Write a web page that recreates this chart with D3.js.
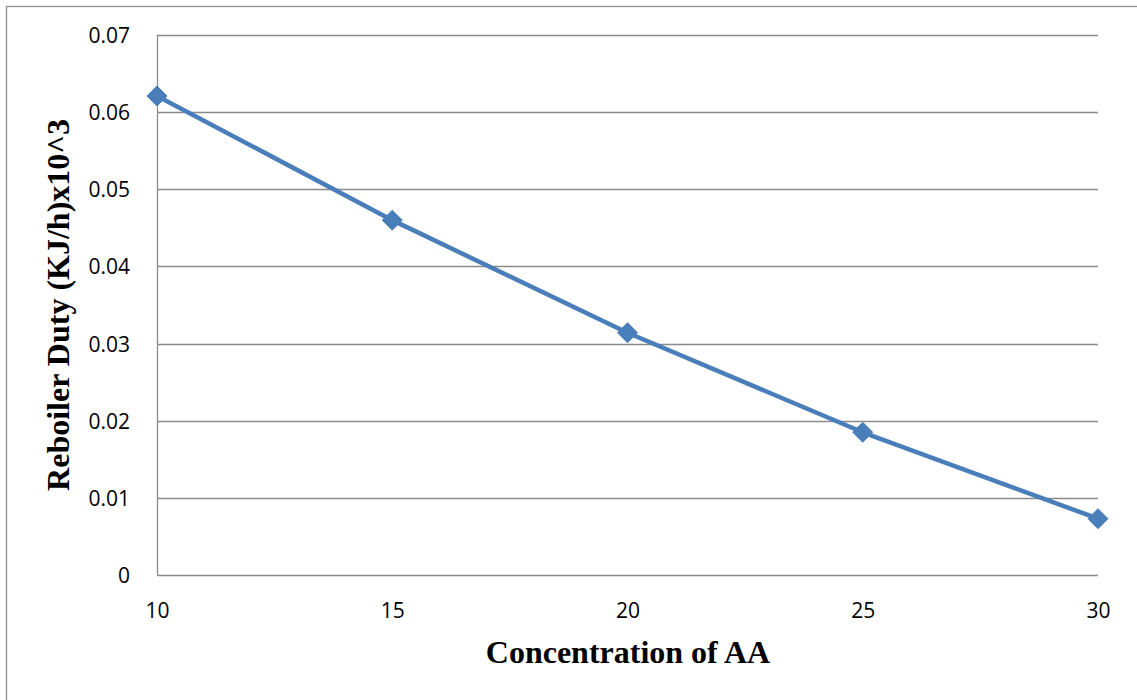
<!DOCTYPE html>
<html>
<head>
<meta charset="utf-8">
<script src="https://cdn.jsdelivr.net/npm/d3@7"></script>
<style>
  html, body { margin: 0; padding: 0; background: #fff; }
  svg { display: block; }
</style>
</head>
<body>
<svg id="chart" width="1137" height="700"></svg>
<script>
// Reboiler duty against acetic acid concentration
const concentrations = [10, 15, 20, 25, 30];
const reboilerDuty = [0.0621, 0.0460, 0.0314, 0.0185, 0.0073];
const xTicks = [10, 15, 20, 25, 30];
const yTicks = [0, 0.01, 0.02, 0.03, 0.04, 0.05, 0.06, 0.07];
const xTitle = "Concentration of AA";
const yTitle = "Reboiler Duty (KJ/h)x10^3";

const svg = d3.select("#chart");
const W = 1137, H = 700;
const plot = { left: 157, top: 35, right: 1098, bottom: 575 };
const tickFont = "'Open Sans', 'Liberation Sans', sans-serif";
const titleFont = "'Liberation Serif', 'Times New Roman', serif";

// Outer chart frame
svg.append("rect")
  .attr("x", 6.5).attr("y", 6.5)
  .attr("width", W + 10).attr("height", H + 10)
  .attr("fill", "#fff")
  .attr("stroke", "#8c8c8c").attr("stroke-width", 1.3);

const x = d3.scaleLinear().domain([10, 30]).range([plot.left, plot.right]);
const y = d3.scaleLinear().domain([0, 0.07]).range([plot.bottom, plot.top]);

// Horizontal gridlines
svg.append("g")
  .selectAll("line")
  .data(yTicks)
  .join("line")
  .attr("x1", plot.left).attr("x2", plot.right)
  .attr("y1", d => Math.round(y(d)) + 0.5).attr("y2", d => Math.round(y(d)) + 0.5)
  .attr("stroke", "#8a8a8a").attr("stroke-width", 1.3);

// Vertical axis line
svg.append("line")
  .attr("x1", plot.left + 0.5).attr("x2", plot.left + 0.5)
  .attr("y1", plot.top).attr("y2", plot.bottom)
  .attr("stroke", "#8a8a8a").attr("stroke-width", 1.3);

// Y axis tick labels
const yAxis = d3.axisLeft(y).tickValues(yTicks).tickSize(0).tickPadding(27)
  .tickFormat(d => d === 0 ? "0" : d3.format(".2f")(d));
svg.append("g")
  .attr("transform", `translate(${plot.left},0)`)
  .call(yAxis)
  .call(g => g.select(".domain").remove())
  .call(g => g.selectAll("text")
    .attr("font-family", tickFont)
    .attr("font-size", 21).attr("fill", "#000")
    .attr("dy", "0.36em"));

// X axis tick labels
const xAxis = d3.axisBottom(x).tickValues(xTicks).tickSize(0).tickPadding(28)
  .tickFormat(d3.format("d"));
svg.append("g")
  .attr("transform", `translate(0,${plot.bottom})`)
  .call(xAxis)
  .call(g => g.select(".domain").remove())
  .call(g => g.selectAll("text")
    .attr("font-family", tickFont)
    .attr("font-size", 21).attr("fill", "#000"));

// Data line
const pts = concentrations.map((c, i) => [c, reboilerDuty[i]]);
svg.append("path")
  .datum(pts)
  .attr("fill", "none")
  .attr("stroke", "#4a7ebb")
  .attr("stroke-width", 4.5)
  .attr("stroke-linejoin", "round")
  .attr("d", d3.line().x(d => x(d[0])).y(d => y(d[1])));

// Diamond markers
svg.append("g")
  .selectAll("path")
  .data(pts)
  .join("path")
  .attr("transform", d => `translate(${x(d[0])},${y(d[1])})`)
  .attr("d", "M0,-10L10,0L0,10L-10,0Z")
  .attr("fill", "#4a7ebb")
  .attr("stroke", "#4a7ebb").attr("stroke-width", 1);

// Axis titles
svg.append("text")
  .attr("x", 628).attr("y", 663)
  .attr("text-anchor", "middle")
  .attr("font-family", titleFont)
  .attr("font-weight", "bold").attr("font-size", 32)
  .text(xTitle);

svg.append("text")
  .attr("transform", "translate(69,305) rotate(-90)")
  .attr("text-anchor", "middle")
  .attr("font-family", titleFont)
  .attr("font-weight", "bold").attr("font-size", 32)
  .text(yTitle);
</script>
</body>
</html>
